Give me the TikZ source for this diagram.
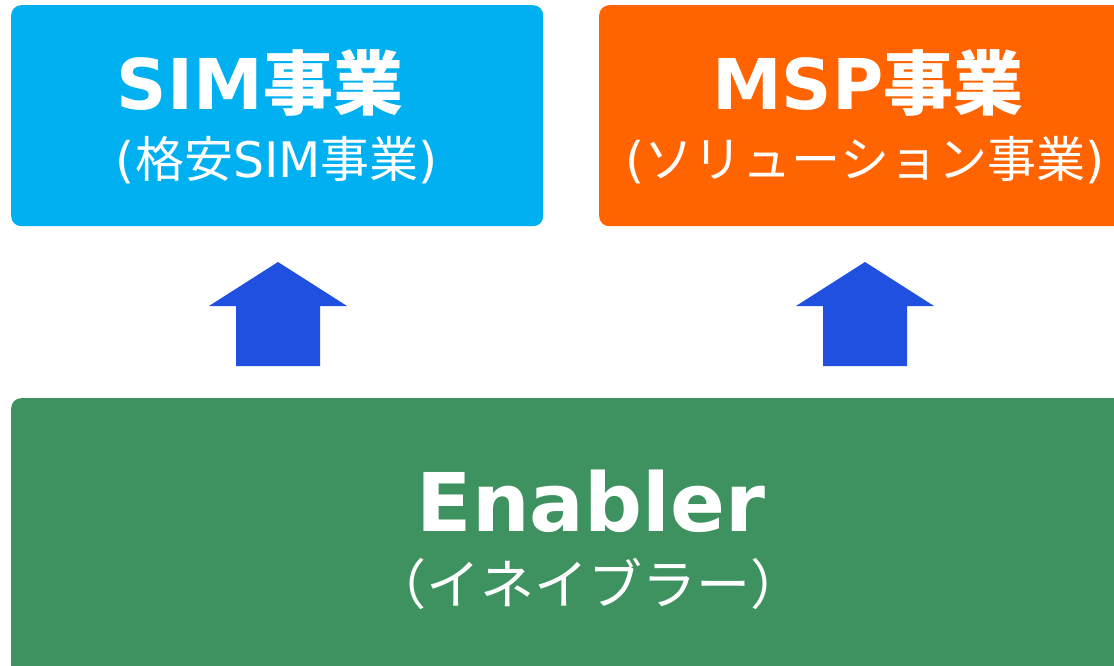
\documentclass[tikz,border=0pt]{standalone}
\usepackage{fontspec}
\setmainfont{DejaVu Sans}
\newfontfamily\jp{Noto Sans CJK JP}
\definecolor{simblue}{HTML}{00B0F0}
\definecolor{msporange}{HTML}{FF6400}
\definecolor{enablegreen}{HTML}{3D925F}
\definecolor{upblue}{HTML}{2050E0}
\tikzset{
  bizbox/.style={rectangle, rounded corners=10pt, anchor=north west, inner sep=0pt},
  title/.style={anchor=base, white, inner sep=0pt, font=\bfseries\fontsize{70}{70}\selectfont},
  subtitle/.style={anchor=base, white, inner sep=0pt, font=\fontsize{49}{49}\selectfont}
}
\begin{document}
\begin{tikzpicture}[x=1pt,y=-1pt]
\useasboundingbox (0,0) rectangle (1114,666);
\clip (0,0) rectangle (1114,666);
\node[bizbox, fill=simblue, minimum width=532pt, minimum height=221pt] (sim) at (11,5){};
\node[bizbox, fill=msporange, minimum width=532pt, minimum height=221pt] (msp) at (599,5){};
\node[bizbox, fill=enablegreen, minimum width=1160pt, minimum height=300pt] (enabler) at (11,398){};
\node[title] (simtitle) at (260,110){SIM{\jp 事業}};
\node[subtitle] (simsub) at (277,178){({\jp 格安}SIM{\jp 事業})};
\node[title] (msptitle) at (868,110){MSP{\jp 事業}};
\node[subtitle] (mspsub) at (865,178){({\jp ソリューション事業})};
\node[title, font=\bfseries\fontsize{81}{81}\selectfont] (entitle) at (591,531){Enabler};
\node[subtitle, font=\jp\fontsize{54}{54}\selectfont] (ensub) at (588,604){（イネイブラー）};
\foreach \x in {278,865}
  \fill[upblue] (\x,262) -- (\x+69,306) -- (\x+42,306) -- (\x+42,366)
    -- (\x-42,366) -- (\x-42,306) -- (\x-69,306) -- cycle;
\end{tikzpicture}
\end{document}
